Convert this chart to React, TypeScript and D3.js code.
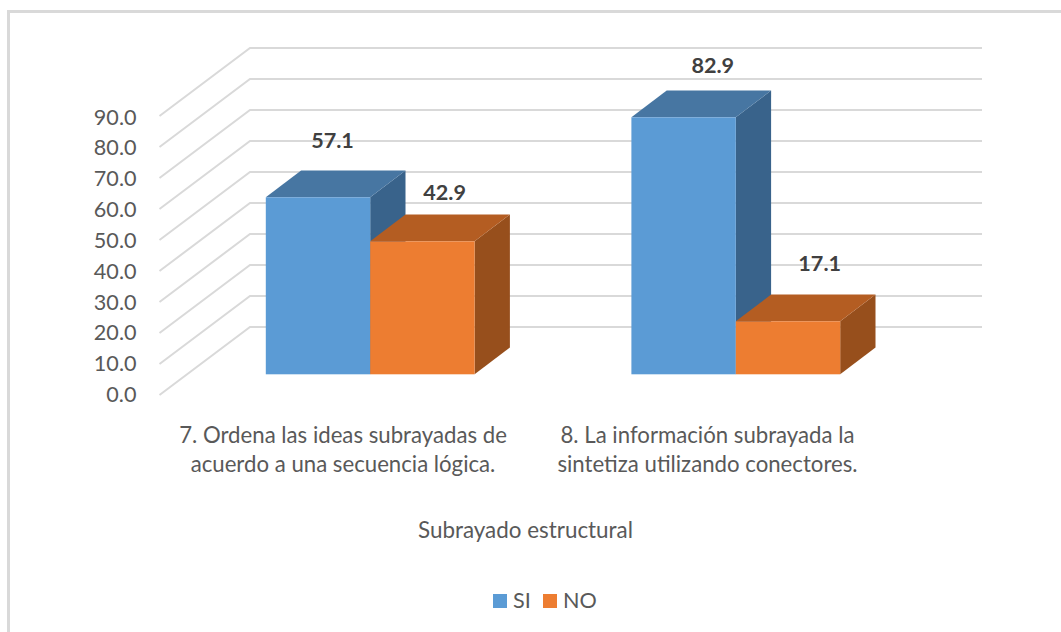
import React from "react";
import * as d3 from "d3";

const categories = [
  ["7. Ordena las ideas subrayadas de", "acuerdo a una secuencia lógica."],
  ["8. La información subrayada la", "sintetiza utilizando conectores."],
];
const seriesNames = ["SI", "NO"];
const siValues = [57.1, 82.9];
const noValues = [42.9, 17.1];
const ticks = [0, 10, 20, 30, 40, 50, 60, 70, 80, 90];
const axisTitle = "Subrayado estructural";

const W = 1061, H = 632;
const font = "Lato, 'Open Sans', sans-serif";
const y = d3.scaleLinear().domain([0, 90]).range([395, 116]);
const yLabel = d3.scaleLinear().domain([0, 90]).range([402, 124.6]);
const barBase = 374.3;
const h = (v: number) => y(0) - y(v);
const groupScale = d3.scalePoint<number>().domain([0, 1]).range([265.8, 631.4]);
const barW = 104.4;
const depth = { dx: 35.3, dy: -26.8 };
const grid = { x0: 159.5, dx: 90.5, dy: -68, right: 982 };
const fills = [
  { front: "#5b9bd5", top: "#4776a2", side: "#39638b" },
  { front: "#ed7d31", top: "#b45d22", side: "#974f1c" },
];
const line = d3.line();

function Bar({ x, v, c }: { x: number; v: number; c: typeof fills[0] }) {
  const t = barBase - h(v);
  const { dx, dy } = depth;
  const r = x + barW;
  return (
    <g>
      <path d={line([[r, t], [r + dx, t + dy], [r + dx, barBase + dy], [r, barBase]])! + "Z"} fill={c.side} />
      <path d={line([[x, t], [x + dx, t + dy], [r + dx, t + dy], [r, t]])! + "Z"} fill={c.top} />
      <rect x={x} y={t} width={barW} height={h(v)} fill={c.front} />
    </g>
  );
}

const labelStyle = { fontSize: 21.6, fontWeight: 700, fill: "#404040", textAnchor: "middle" as const };

export default function App() {
  return (
    <svg width={W} height={H} style={{ position: "absolute", left: 0, top: 0, background: "#fff" }} fontFamily={font}>
      <path d={line([[8.5, 640], [8.5, 11.5], [1061, 11.5]])!} fill="none" stroke="#d9d9d9" strokeWidth={3} />
      {ticks.map((t) => (
        <g key={t}>
          <path
            d={line([[grid.x0, y(t)], [grid.x0 + grid.dx, y(t) + grid.dy], [grid.right, y(t) + grid.dy]])!}
            fill="none" stroke="#d9d9d9" strokeWidth={2}
          />
          <text x={136.5} y={yLabel(t)} textAnchor="end" fontSize={21.6} fill="#595959">{t.toFixed(1)}</text>
        </g>
      ))}
      {categories.map((_, i) => (
        <g key={i}>
          <Bar x={groupScale(i)!} v={siValues[i]} c={fills[0]} />
          <Bar x={groupScale(i)! + barW} v={noValues[i]} c={fills[1]} />
        </g>
      ))}
      <text x={332.5} y={147.7} {...labelStyle}>{siValues[0].toFixed(1)}</text>
      <text x={444.6} y={200} {...labelStyle}>{noValues[0].toFixed(1)}</text>
      <text x={712.8} y={72.7} {...labelStyle}>{siValues[1].toFixed(1)}</text>
      <text x={819.7} y={270.7} {...labelStyle}>{noValues[1].toFixed(1)}</text>
      {categories.map((lines, i) =>
        lines.map((l, j) => (
          <text key={l} x={[343, 707.5][i]} y={442.5 + j * 29} textAnchor="middle" fontSize={22.2} fill="#595959">{l}</text>
        ))
      )}
      <text x={525.5} y={538} textAnchor="middle" fontSize={22.4} fill="#595959">{axisTitle}</text>
      <rect x={493} y={594} width={14} height={14} fill={fills[0].front} />
      <text x={513} y={607.5} fontSize={21.6} fill="#595959">{seriesNames[0]}</text>
      <rect x={543} y={594} width={14} height={14} fill={fills[1].front} />
      <text x={563} y={607.5} fontSize={21.6} fill="#595959">{seriesNames[1]}</text>
    </svg>
  );
}
